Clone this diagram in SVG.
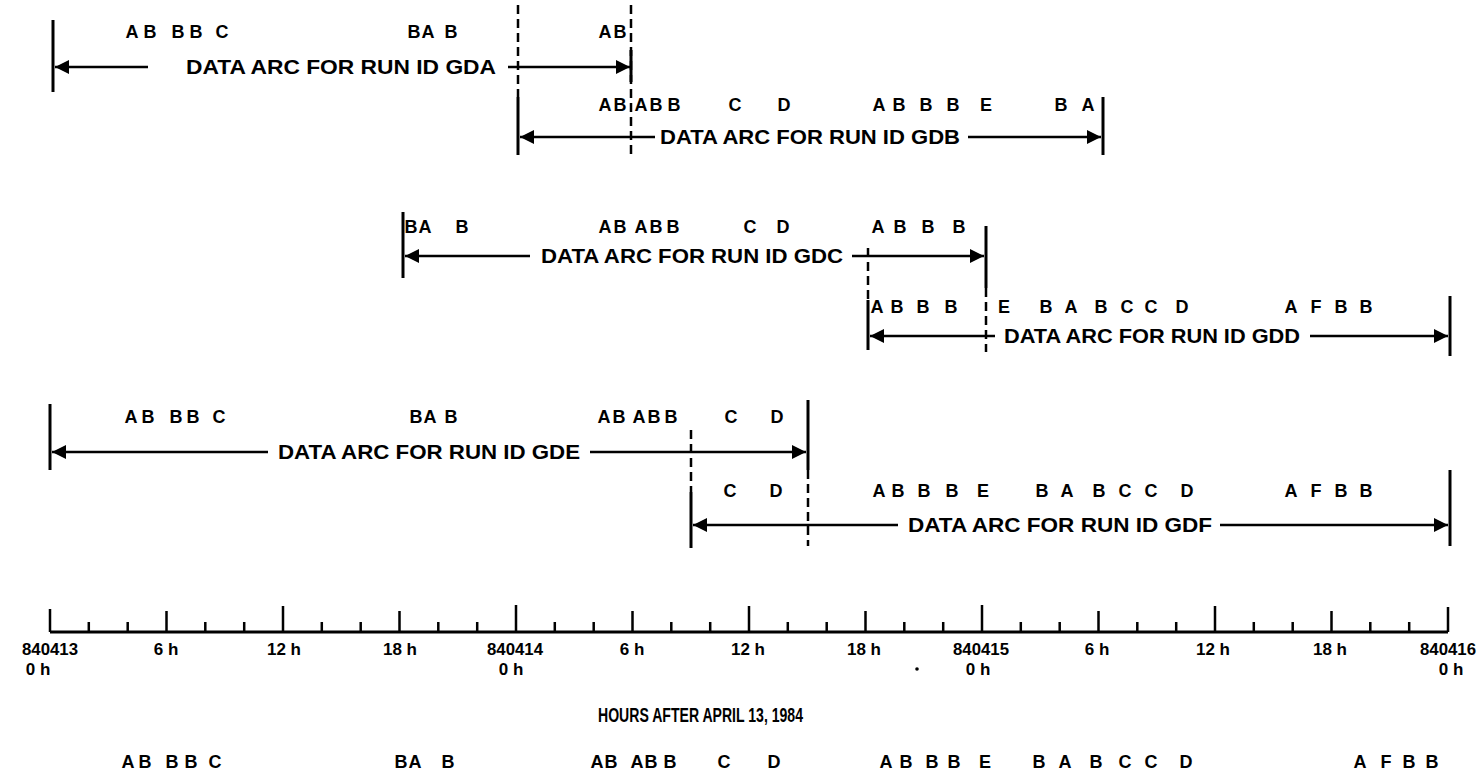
<svg xmlns="http://www.w3.org/2000/svg" width="1482" height="778" viewBox="0 0 1482 778">
<style>
.bg{fill:#fff}
.ln{stroke:#000;stroke-width:2.5;fill:none}
.bar{stroke:#000;stroke-width:3;fill:none}
.dash{stroke:#000;stroke-width:2.5;fill:none;stroke-dasharray:9 5}
.lt{font-family:"Liberation Sans",Arial,sans-serif;font-weight:bold;font-size:18px;fill:#000;text-anchor:middle}
.arc{font-family:"Liberation Sans",Arial,sans-serif;font-weight:bold;font-size:20px;fill:#000}
.ax{font-family:"Liberation Sans",Arial,sans-serif;font-weight:bold;font-size:17px;fill:#000;text-anchor:middle}
.title{font-family:"Liberation Sans",Arial,sans-serif;font-weight:bold;font-size:20px;fill:#000}
</style>
<defs>
<marker id="ah" viewBox="0 0 14 14" refX="14" refY="7" markerWidth="14" markerHeight="14" markerUnits="userSpaceOnUse" orient="auto-start-reverse">
<path d="M0,0 L14,7 L0,14 z" fill="#000"/>
</marker>
</defs>
<rect class="bg" x="0" y="0" width="1482" height="778"/>

<g id="connectors">
<line class="dash" x1="518" y1="5" x2="518" y2="97"/>
<line class="dash" x1="631" y1="5" x2="631" y2="155"/>
<line class="dash" x1="868" y1="248" x2="868" y2="300"/>
<line class="dash" x1="986" y1="288" x2="986" y2="352"/>
<line class="dash" x1="691" y1="430" x2="691" y2="492"/>
<line class="dash" x1="808" y1="470" x2="808" y2="546"/>
</g>

<g id="run-gda">
<line class="bar" x1="53" y1="20" x2="53" y2="92"/>
<line class="bar" x1="631" y1="50" x2="631" y2="82"/>
<line class="ln" x1="148" y1="67" x2="55" y2="67" marker-end="url(#ah)"/>
<line class="ln" x1="508" y1="67" x2="630" y2="67" marker-end="url(#ah)"/>
<text class="arc" x="186" y="74" textLength="310" lengthAdjust="spacingAndGlyphs">DATA ARC FOR RUN ID GDA</text>
<text class="lt" y="38"><tspan x="132">A</tspan><tspan x="150">B</tspan><tspan x="178">B</tspan><tspan x="196">B</tspan><tspan x="222">C</tspan><tspan x="414">B</tspan><tspan x="428">A</tspan><tspan x="451">B</tspan><tspan x="605">A</tspan><tspan x="620">B</tspan></text>
</g>

<g id="run-gdb">
<line class="bar" x1="518" y1="97" x2="518" y2="155"/>
<line class="bar" x1="1103" y1="97" x2="1103" y2="155"/>
<line class="ln" x1="655" y1="137" x2="520" y2="137" marker-end="url(#ah)"/>
<line class="ln" x1="968" y1="137" x2="1101" y2="137" marker-end="url(#ah)"/>
<text class="arc" x="660" y="144" textLength="300" lengthAdjust="spacingAndGlyphs">DATA ARC FOR RUN ID GDB</text>
<text class="lt" y="111"><tspan x="605">A</tspan><tspan x="620">B</tspan><tspan x="641">A</tspan><tspan x="656">B</tspan><tspan x="674">B</tspan><tspan x="735">C</tspan><tspan x="784">D</tspan><tspan x="879">A</tspan><tspan x="899">B</tspan><tspan x="926">B</tspan><tspan x="953">B</tspan><tspan x="986">E</tspan><tspan x="1061">B</tspan><tspan x="1088">A</tspan></text>
</g>

<g id="run-gdc">
<line class="bar" x1="403" y1="212" x2="403" y2="278"/>
<line class="bar" x1="986" y1="226" x2="986" y2="288"/>
<line class="ln" x1="530" y1="256" x2="405" y2="256" marker-end="url(#ah)"/>
<line class="ln" x1="852" y1="256" x2="984" y2="256" marker-end="url(#ah)"/>
<text class="arc" x="541" y="263" textLength="302" lengthAdjust="spacingAndGlyphs">DATA ARC FOR RUN ID GDC</text>
<text class="lt" y="233"><tspan x="411">B</tspan><tspan x="425">A</tspan><tspan x="462">B</tspan><tspan x="605">A</tspan><tspan x="620">B</tspan><tspan x="641">A</tspan><tspan x="656">B</tspan><tspan x="673">B</tspan><tspan x="750">C</tspan><tspan x="783">D</tspan><tspan x="878">A</tspan><tspan x="900">B</tspan><tspan x="928">B</tspan><tspan x="959">B</tspan></text>
</g>

<g id="run-gdd">
<line class="bar" x1="868" y1="300" x2="868" y2="350"/>
<line class="bar" x1="1450" y1="296" x2="1450" y2="356"/>
<line class="ln" x1="995" y1="336" x2="870" y2="336" marker-end="url(#ah)"/>
<line class="ln" x1="1310" y1="336" x2="1448" y2="336" marker-end="url(#ah)"/>
<text class="arc" x="1004" y="343" textLength="296" lengthAdjust="spacingAndGlyphs">DATA ARC FOR RUN ID GDD</text>
<text class="lt" y="313"><tspan x="877">A</tspan><tspan x="897">B</tspan><tspan x="923">B</tspan><tspan x="951">B</tspan><tspan x="1004">E</tspan><tspan x="1046">B</tspan><tspan x="1071">A</tspan><tspan x="1101">B</tspan><tspan x="1127">C</tspan><tspan x="1151">C</tspan><tspan x="1182">D</tspan><tspan x="1291">A</tspan><tspan x="1316">F</tspan><tspan x="1341">B</tspan><tspan x="1366">B</tspan></text>
</g>

<g id="run-gde">
<line class="bar" x1="50" y1="404" x2="50" y2="470"/>
<line class="bar" x1="808" y1="400" x2="808" y2="470"/>
<line class="ln" x1="268" y1="452" x2="52" y2="452" marker-end="url(#ah)"/>
<line class="ln" x1="590" y1="452" x2="806" y2="452" marker-end="url(#ah)"/>
<text class="arc" x="278" y="459" textLength="302" lengthAdjust="spacingAndGlyphs">DATA ARC FOR RUN ID GDE</text>
<text class="lt" y="423"><tspan x="131">A</tspan><tspan x="148">B</tspan><tspan x="176">B</tspan><tspan x="193">B</tspan><tspan x="219">C</tspan><tspan x="416">B</tspan><tspan x="430">A</tspan><tspan x="451">B</tspan><tspan x="604">A</tspan><tspan x="619">B</tspan><tspan x="639">A</tspan><tspan x="654">B</tspan><tspan x="671">B</tspan><tspan x="731">C</tspan><tspan x="777">D</tspan></text>
</g>

<g id="run-gdf">
<line class="bar" x1="691" y1="492" x2="691" y2="548"/>
<line class="bar" x1="1450" y1="470" x2="1450" y2="546"/>
<line class="ln" x1="898" y1="525" x2="693" y2="525" marker-end="url(#ah)"/>
<line class="ln" x1="1220" y1="525" x2="1448" y2="525" marker-end="url(#ah)"/>
<text class="arc" x="908" y="532" textLength="304" lengthAdjust="spacingAndGlyphs">DATA ARC FOR RUN ID GDF</text>
<text class="lt" y="497"><tspan x="730">C</tspan><tspan x="776">D</tspan><tspan x="879">A</tspan><tspan x="898">B</tspan><tspan x="924">B</tspan><tspan x="952">B</tspan><tspan x="983">E</tspan><tspan x="1042">B</tspan><tspan x="1067">A</tspan><tspan x="1099">B</tspan><tspan x="1125">C</tspan><tspan x="1151">C</tspan><tspan x="1187">D</tspan><tspan x="1291">A</tspan><tspan x="1316">F</tspan><tspan x="1341">B</tspan><tspan x="1366">B</tspan></text>
</g>

<g id="time-axis">
<line class="bar" x1="50" y1="632" x2="1448" y2="632"/>
<path class="ln" d="M50,632V609 M88.8,632V622 M127.7,632V622 M166.5,632V611 M205.3,632V622 M244.2,632V622 M283,632V606 M321.8,632V622 M360.7,632V622 M399.5,632V611 M438.3,632V622 M477.2,632V622 M516,632V605 M554.8,632V622 M593.7,632V622 M632.5,632V611 M671.3,632V622 M710.2,632V622 M749,632V606 M787.8,632V622 M826.7,632V622 M865.5,632V611 M904.3,632V622 M943.2,632V622 M982,632V605 M1020.8,632V622 M1059.7,632V622 M1098.5,632V611 M1137.3,632V622 M1176.2,632V622 M1215,632V606 M1253.8,632V622 M1292.7,632V622 M1331.5,632V611 M1370.3,632V622 M1409.2,632V622 M1448,632V607"/>
<text class="ax" x="50" y="655" textLength="56" lengthAdjust="spacingAndGlyphs">840413</text>
<text class="ax" x="38" y="675">0 h</text>
<text class="ax" x="166" y="655">6 h</text>
<text class="ax" x="284" y="655">12 h</text>
<text class="ax" x="400" y="655">18 h</text>
<text class="ax" x="515" y="655" textLength="56" lengthAdjust="spacingAndGlyphs">840414</text>
<text class="ax" x="511" y="675">0 h</text>
<text class="ax" x="632" y="655">6 h</text>
<text class="ax" x="748" y="655">12 h</text>
<text class="ax" x="864" y="655">18 h</text>
<text class="ax" x="981" y="655" textLength="56" lengthAdjust="spacingAndGlyphs">840415</text>
<text class="ax" x="978" y="675">0 h</text>
<circle cx="917" cy="669" r="1.8" fill="#000"/>
<text class="ax" x="1097" y="655">6 h</text>
<text class="ax" x="1213" y="655">12 h</text>
<text class="ax" x="1330" y="655">18 h</text>
<text class="ax" x="1448" y="655" textLength="56" lengthAdjust="spacingAndGlyphs">840416</text>
<text class="ax" x="1451" y="675">0 h</text>
<text class="title" x="598" y="722" textLength="205" lengthAdjust="spacingAndGlyphs">HOURS AFTER APRIL 13, 1984</text>
</g>

<g id="summary-letters">
<text class="lt" y="768"><tspan x="128">A</tspan><tspan x="145">B</tspan><tspan x="172">B</tspan><tspan x="191">B</tspan><tspan x="215">C</tspan><tspan x="401">B</tspan><tspan x="415">A</tspan><tspan x="448">B</tspan><tspan x="597">A</tspan><tspan x="611">B</tspan><tspan x="637">A</tspan><tspan x="651">B</tspan><tspan x="670">B</tspan><tspan x="724">C</tspan><tspan x="774">D</tspan><tspan x="886">A</tspan><tspan x="906">B</tspan><tspan x="932">B</tspan><tspan x="954">B</tspan><tspan x="985">E</tspan><tspan x="1039">B</tspan><tspan x="1065">A</tspan><tspan x="1096">B</tspan><tspan x="1125">C</tspan><tspan x="1151">C</tspan><tspan x="1186">D</tspan><tspan x="1360">A</tspan><tspan x="1386">F</tspan><tspan x="1409">B</tspan><tspan x="1432">B</tspan></text>
</g>
</svg>
